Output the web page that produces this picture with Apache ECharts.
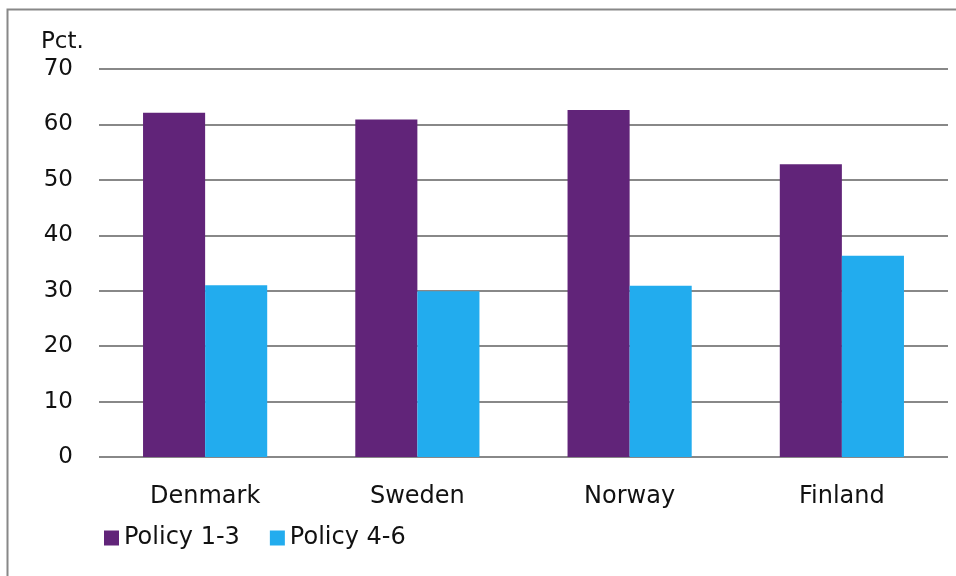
<!DOCTYPE html>
<html><head><meta charset="utf-8">
<script src="https://cdn.jsdelivr.net/npm/echarts@6/dist/echarts.min.js"></script>
<style>html,body{margin:0;padding:0;background:#fff}#c{width:956px;height:576px}</style>
</head><body><div id="c"></div>
<script>
const categories = ['Denmark', 'Sweden', 'Norway', 'Finland'];
const policy13 = [62.1, 60.9, 62.6, 52.8];
const policy46 = [31.0, 29.9, 30.9, 36.3];
const seriesNames = ['Policy 1-3', 'Policy 4-6'];
const yTicks = { min: 0, max: 70, interval: 10 };
const unitLabel = 'Pct.';

const font = 'DejaVu Sans, Verdana, sans-serif';
const chart = echarts.init(document.getElementById('c'), null, { renderer: 'canvas' });
chart.setOption({
  animation: false,
  backgroundColor: '#fff',
  graphic: [
    { type: 'rect', shape: { x: 7.5, y: 9.5, width: 1000, height: 1000 }, style: { fill: 'none', stroke: '#888', lineWidth: 2 }, silent: true },
    { type: 'text', left: 41, top: 31, style: { text: unitLabel, font: '23px ' + font, fill: '#111' } }
  ],
  grid: { left: 99, right: 8, top: 69, bottom: 119, containLabel: false },
  legend: {
    left: 99, top: 521,
    itemWidth: 15, itemHeight: 15, itemGap: 30,
    icon: 'rect',
    textStyle: { fontSize: 24, fontFamily: font, color: '#111', padding: [0, 0, 0, 0] },
    data: seriesNames
  },
  xAxis: {
    type: 'category', data: categories,
    axisLine: { show: false }, axisTick: { show: false },
    axisLabel: { fontSize: 24, fontFamily: font, color: '#111', margin: 28 }
  },
  yAxis: {
    type: 'value', min: yTicks.min, max: yTicks.max, interval: yTicks.interval,
    axisLine: { show: false }, axisTick: { show: false },
    axisLabel: { fontSize: 23, fontFamily: font, color: '#111', margin: 26 },
    splitLine: { lineStyle: { color: '#888', width: 2 } }
  },
  series: [
    { name: seriesNames[0], type: 'bar', data: policy13, barGap: '0%', barCategoryGap: '41.5%', itemStyle: { color: '#612479' } },
    { name: seriesNames[1], type: 'bar', data: policy46, itemStyle: { color: '#22ACEE' } }
  ]
});
</script></body></html>
